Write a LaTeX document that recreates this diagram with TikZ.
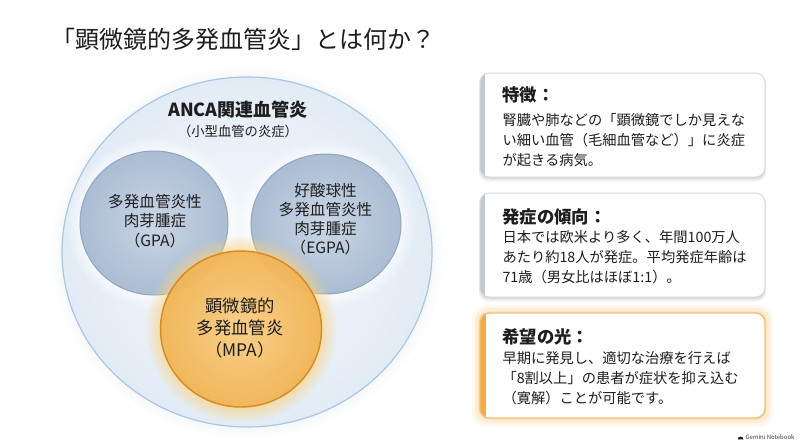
\documentclass[tikz,border=0pt]{standalone}
\usepackage{fontspec}
\setmainfont{Noto Sans CJK JP}
\usetikzlibrary{fadings}

\definecolor{inktext}{HTML}{1E1E1E}
\definecolor{ancain}{HTML}{F6F9FC}
\definecolor{ancaout}{HTML}{E2ECF6}
\definecolor{ancaline}{HTML}{A9C7DF}
\definecolor{gpain}{HTML}{C6D3E3}
\definecolor{gpaout}{HTML}{A4B8D0}
\definecolor{gpaline}{HTML}{8EA6C4}
\definecolor{mpain}{HTML}{F8CE86}
\definecolor{mpaout}{HTML}{F1B150}
\definecolor{mpaline}{HTML}{D68C22}
\definecolor{mpaglow}{HTML}{FBD27A}
\definecolor{boxline}{HTML}{D3D8DE}
\definecolor{stripgray}{HTML}{C2C8D0}
\definecolor{hopeline}{HTML}{F2C06A}
\definecolor{hopestrip}{HTML}{F3AC45}
\definecolor{hopeglow}{HTML}{FAD49A}

\tikzset{every picture/.style={line width=0.75pt}}
\tikzset{
  ancacirc/.style={inner color=ancain, outer color=ancaout, draw=ancaline, line width=0.9pt},
  gpacirc/.style={inner color=gpain, outer color=gpaout, draw=gpaline, line width=0.75pt, fill opacity=0.92},
  mpacirc/.style={inner color=mpain, outer color=mpaout, draw=mpaline, line width=1.1pt, fill opacity=0.85},
  circlabel/.style={inner sep=0.75pt, align=center, text=inktext, font=\fontsize{11.7}{14.4}\selectfont},
  boxshadow/.style={fill=black, opacity=0.07, rounded corners=7pt},
  boxedge/.style={draw=boxline, rounded corners=7pt, line width=0.75pt},
  boxtitle/.style={anchor=west, inner sep=0pt, text=inktext, font=\bfseries\fontsize{13}{16}\selectfont},
  boxbody/.style={anchor=west, inner sep=0pt, align=left, text=inktext, font=\fontsize{10.7}{15}\selectfont}
}

\begin{document}
\begin{tikzpicture}[x=0.75pt,y=0.75pt,yscale=-1,xscale=1]
\useasboundingbox (0,0) rectangle (800,447); %set diagram 800 x 447
\fill [white] (0,0) rectangle (800,447);

% Text Node
\draw (243.5,39) node [inner sep=0.75pt] [text=inktext, font=\fontsize{18}{22}\selectfont] (title) {「顕微鏡的多発血管炎」とは何か？};

%Shape: Ellipse [anca]
\fill [ancaline, opacity=0.35, path fading=circle with fuzzy edge 20 percent] (247,252) ellipse (196 and 186);
\shade [ancacirc] (247,252) ellipse (185 and 175);

%Shape: Ellipse [gpa]
\fill [white, opacity=0.8, path fading=circle with fuzzy edge 20 percent] (154,223) ellipse (88 and 86);
%Shape: Ellipse [egpa]
\fill [white, opacity=0.8, path fading=circle with fuzzy edge 20 percent] (326,224) ellipse (89 and 84);
\shade [gpacirc] (154,223) ellipse (74 and 72);
\shade [gpacirc] (326,224) ellipse (75 and 70);

%Shape: Ellipse [mpa]
\fill [mpaglow, opacity=0.75, path fading=circle with fuzzy edge 20 percent] (241,329) ellipse (96 and 94);
\shade [mpacirc] (241,329) ellipse (80.5 and 78);

% Text Node
\draw (238,110) node [inner sep=0.75pt] [text=inktext, font=\bfseries\fontsize{13.5}{16}\selectfont] (ancaT) {ANCA関連血管炎};
% Text Node
\draw (238,131.5) node [inner sep=0.75pt] [text=inktext, font=\fontsize{10}{12}\selectfont] (ancaS) {（小型血管の炎症）};
% Text Node
\draw (155,221) node [circlabel] (gpaT) {多発血管炎性\\肉芽腫症\\（GPA）};
% Text Node
\draw (325.5,219) node [circlabel] (egpaT) {好酸球性\\多発血管炎性\\肉芽腫症\\（EGPA）};
% Text Node
\draw (240,328) node [circlabel, font=\fontsize{13}{16.4}\selectfont] (mpaT) {顕微鏡的\\多発血管炎\\（MPA）};

%Shape: Rectangle [featbox]
\fill [boxshadow] (479,74) rectangle (766,181);
\fill [boxshadow] (480,75) rectangle (765,179);
\begin{scope}
\clip [rounded corners=7pt] (480,73) rectangle (765,177);
\fill [white] (480,73) rectangle (765,177);
\fill [stripgray] (480,73) rectangle (485,177);
\end{scope}
\draw [boxedge] (480,73) rectangle (765,177);

%Shape: Rectangle [trendbox]
\fill [boxshadow] (479,194) rectangle (766,301);
\fill [boxshadow] (480,195) rectangle (765,299);
\begin{scope}
\clip [rounded corners=7pt] (480,193) rectangle (765,297);
\fill [white] (480,193) rectangle (765,297);
\fill [stripgray] (480,193) rectangle (485,297);
\end{scope}
\draw [boxedge] (480,193) rectangle (765,297);

%Shape: Rectangle [hopebox]
\fill [hopeglow, opacity=0.15, rounded corners=11pt] (472,305) rectangle (773,427);
\fill [hopeglow, opacity=0.25, rounded corners=9pt] (475,308) rectangle (770,423);
\fill [hopeglow, opacity=0.35, rounded corners=8pt] (478,311) rectangle (767,420);
\begin{scope}
\clip [rounded corners=7pt] (480,313) rectangle (765,418);
\fill [white] (480,313) rectangle (765,418);
\fill [hopestrip] (480,313) rectangle (486,418);
\end{scope}
\draw [boxedge, draw=hopeline, line width=1pt] (480,313) rectangle (765,418);

% Text Node
\draw (502,95) node [boxtitle] (featT) {特徴：};
% Text Node
\draw (502,140) node [boxbody] (featB) {腎臓や肺などの「顕微鏡でしか見えな\\い細い血管（毛細血管など）」に炎症\\が起きる病気。};
% Text Node
\draw (502,217) node [boxtitle] (trendT) {発症の傾向：};
% Text Node
\draw (502,257) node [boxbody] (trendB) {日本では欧米より多く、年間100万人\\あたり約18人が発症。平均発症年齢は\\71歳（男女比はほぼ1:1）。};
% Text Node
\draw (502,337) node [boxtitle] (hopeT) {希望の光：};
% Text Node
\draw (502,378) node [boxbody] (hopeB) {早期に発見し、適切な治療を行えば\\「8割以上」の患者が症状を抑え込む\\（寛解）ことが可能です。};

% Text Node
\draw (795,437) node [anchor=east, inner sep=0pt] [text=inktext!85, font=\fontsize{4.5}{5.5}\selectfont] (gemini) {Gemini Notebook};
%Shape: Logo
\fill [inktext] (gemini.south west) ++(-1.5,-0.5) -- ++(-6,0) arc (180:360:3 and 2.8) -- cycle;

\end{tikzpicture}
\end{document}
